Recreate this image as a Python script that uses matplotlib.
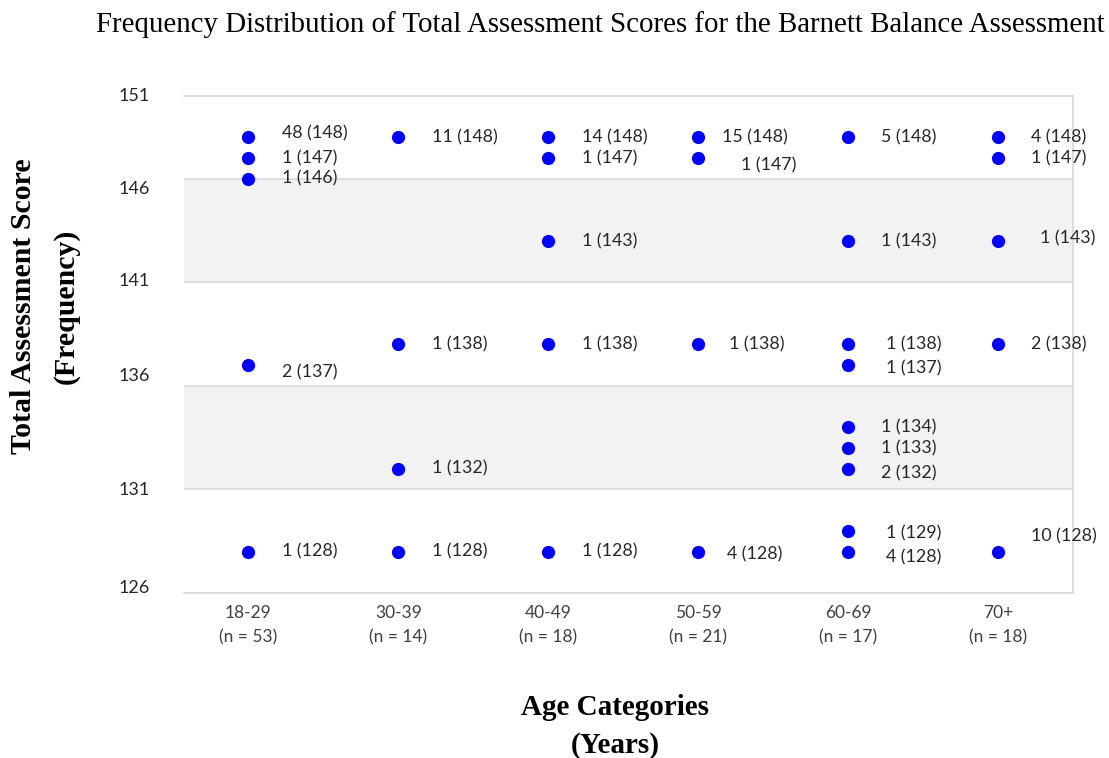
import numpy as np
import matplotlib.pyplot as plt
from matplotlib.transforms import offset_copy

# Barnett Balance Assessment - score frequency by age group
age_groups = ["18-29", "30-39", "40-49", "50-59", "60-69", "70+"]
group_n = [53, 14, 18, 21, 17, 18]

scores_1829 = [148, 147, 146, 137, 128]
freq_1829 = [48, 1, 1, 2, 1]
scores_3039 = [148, 138, 132, 128]
freq_3039 = [11, 1, 1, 1]
scores_4049 = [148, 147, 143, 138, 128]
freq_4049 = [14, 1, 1, 1, 1]
scores_5059 = [148, 147, 138, 128]
freq_5059 = [15, 1, 1, 4]
scores_6069 = [148, 143, 138, 137, 134, 133, 132, 129, 128]
freq_6069 = [5, 1, 1, 1, 1, 1, 2, 1, 4]
scores_70 = [148, 147, 143, 138, 128]
freq_70 = [4, 1, 1, 2, 10]

all_scores = [scores_1829, scores_3039, scores_4049, scores_5059, scores_6069, scores_70]
all_freq = [freq_1829, freq_3039, freq_4049, freq_5059, freq_6069, freq_70]

grid_vals = [126, 131, 136, 141, 146]
tick_text = ["126", "131", "136", "141", "146", "151"]

# label nudges (points) copied from the hand-placed labels in the original
nudge = {
    (0, 148): (0, 3), (0, 137): (0, -5),
    (3, 148): (-7, 0), (3, 147): (7, -5), (3, 138): (-2, 0), (3, 128): (-3, -2),
    (4, 138): (3, 0), (4, 137): (3, -2), (4, 129): (3, -2), (4, 128): (3, -4),
    (4, 132): (0, -3),
    (5, 143): (6, 2), (5, 128): (0, 11),
}
# y tick labels in the original sit a little off their gridlines (pixels, + = down)
tick_shift = [-5, 1, -10, -1, 10, 0]

plt.rcParams['font.family'] = ['Lato', 'DejaVu Sans']
serif = 'Liberation Serif'

fig = plt.figure(figsize=(11.09, 7.58), dpi=100)
ax = fig.add_axes([0.1659, 0.2177, 0.8016, 0.6557])

ax.set_ylim(126, 150)
ax.set_xlim(-0.43, 5.5)

# shaded bands and gridlines
for lo in [131, 141]:
    ax.axhspan(lo, lo + 5, color='#f2f2f2', zorder=0, lw=0)
for y in grid_vals:
    ax.axhline(y, color='#d9d9d9', lw=1.2, zorder=1)

for i, (sc, fr) in enumerate(zip(all_scores, all_freq)):
    ax.plot([i] * len(sc), sc, 'o', color='#0000ff', ms=8.5, zorder=3)
    for s, f in zip(sc, fr):
        dx, dy = nudge.get((i, s), (0, 0))
        ax.annotate(f"{f} ({s})", (i, s), xytext=(24 + dx, dy),
                    textcoords='offset points', va='center', ha='left',
                    fontsize=12.8, color='#262626', zorder=4)

ax.set_xticks(range(len(age_groups)))
ax.set_xticklabels([f"{g}\n(n = {n})" for g, n in zip(age_groups, group_n)],
                   fontsize=12.5, color='#404040', linespacing=1.6)
ax.tick_params(length=0, pad=9, axis='x')
ax.set_yticks([])

# y tick labels
ylab_trans = ax.get_yaxis_transform()
for k, (v, t) in enumerate(zip(grid_vals + [150], tick_text)):
    tr = offset_copy(ylab_trans, fig=fig, x=-34, y=-tick_shift[k], units='dots')
    ax.text(0, v, t, transform=tr, ha='right', va='center', fontsize=13, color='#262626')

for side in ['top', 'right', 'bottom']:
    ax.spines[side].set_color('#d9d9d9')
    ax.spines[side].set_linewidth(1.2)
ax.spines['left'].set_visible(False)

fig.text(0.541, 0.967, "Frequency Distribution of Total Assessment Scores for the Barnett Balance Assessment",
         ha='center', va='center', fontsize=20.8, family=serif)
fig.text(0.021, 0.596, "Total Assessment Score", rotation=90, ha='center', va='center',
         fontsize=21.5, fontweight='bold', family=serif)
fig.text(0.0595, 0.596, "(Frequency)", rotation=90, ha='center', va='center',
         fontsize=21.5, fontweight='bold', family=serif)
fig.text(0.555, 0.067, "Age Categories", ha='center', va='center',
         fontsize=21, fontweight='bold', family=serif)
fig.text(0.555, 0.017, "(Years)", ha='center', va='center',
         fontsize=21, fontweight='bold', family=serif)

fig.savefig("out.png", dpi=100)
